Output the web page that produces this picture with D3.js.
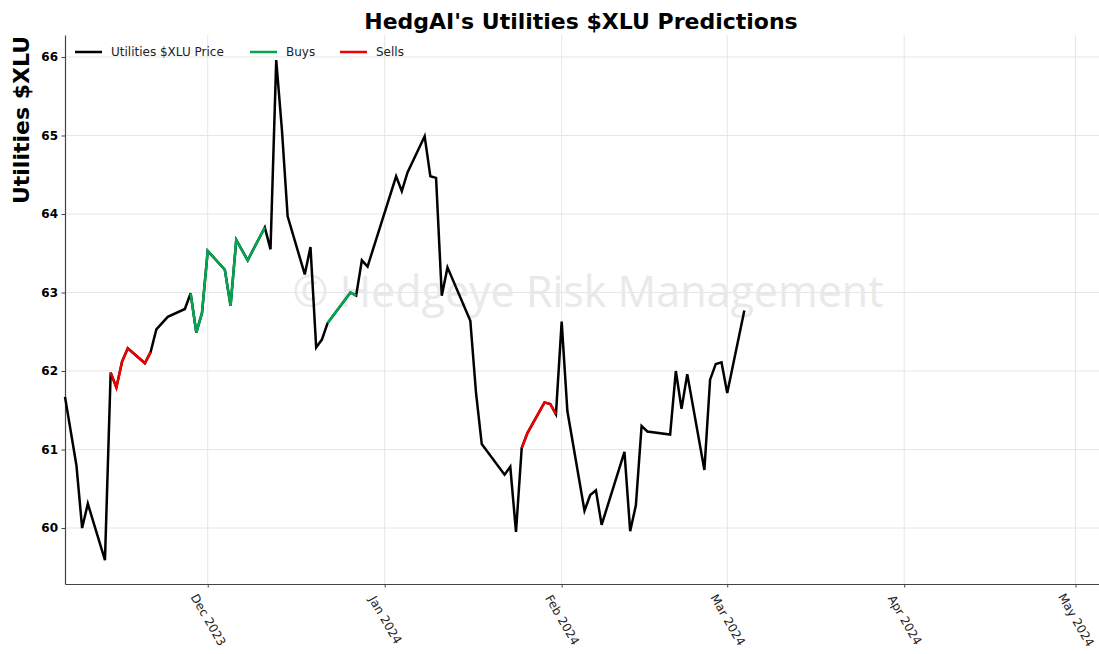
<!DOCTYPE html>
<html>
<head>
<meta charset="utf-8">
<script src="https://cdn.jsdelivr.net/npm/d3@7"></script>
<style>
  body { margin: 0; background: #fff; }
  svg { display: block; font-family: "DejaVu Sans", sans-serif; }
</style>
</head>
<body>
<svg id="chart" width="1099" height="654"></svg>
<script>
// price readings (trading days)
var dates = ["2023-11-06","2023-11-08","2023-11-09","2023-11-10","2023-11-13","2023-11-14","2023-11-15",
  "2023-11-16","2023-11-17","2023-11-20","2023-11-21","2023-11-22","2023-11-24","2023-11-27","2023-11-28",
  "2023-11-29","2023-11-30","2023-12-01","2023-12-04","2023-12-05","2023-12-06","2023-12-08","2023-12-11",
  "2023-12-12","2023-12-13","2023-12-14","2023-12-15","2023-12-18","2023-12-19","2023-12-20","2023-12-21",
  "2023-12-22","2023-12-26","2023-12-27","2023-12-28","2023-12-29","2024-01-03","2024-01-04","2024-01-05",
  "2024-01-08","2024-01-09","2024-01-10","2024-01-11","2024-01-12","2024-01-16","2024-01-17","2024-01-18",
  "2024-01-22","2024-01-23","2024-01-24","2024-01-25","2024-01-26","2024-01-29","2024-01-30","2024-01-31",
  "2024-02-01","2024-02-02","2024-02-05","2024-02-06","2024-02-07","2024-02-08","2024-02-12","2024-02-13",
  "2024-02-14","2024-02-15","2024-02-16","2024-02-20","2024-02-21","2024-02-22","2024-02-23","2024-02-26",
  "2024-02-27","2024-02-28","2024-02-29","2024-03-01","2024-03-04"];
var prices = [61.67,60.80,60.00,60.31,59.59,61.98,61.79,
  62.12,62.29,62.10,62.24,62.53,62.69,62.79,62.99,
  62.49,62.74,63.53,63.29,62.83,63.67,63.41,63.83,
  63.55,65.96,65.07,63.97,63.23,63.58,62.30,62.40,
  62.61,63.00,62.96,63.41,63.33,64.48,64.29,64.53,
  64.99,64.48,64.46,62.96,63.32,62.64,61.72,61.07,
  60.68,60.78,59.95,61.02,61.21,61.60,61.58,61.45,
  62.63,61.49,60.22,60.42,60.48,60.04,60.97,59.96,
  60.29,61.30,61.23,61.19,62.00,61.52,61.96,60.74,
  61.89,62.09,62.11,61.72,62.77];

// signal windows [start, end]
var buys = [["2023-11-28","2023-12-11"], ["2023-12-22","2023-12-27"]];
var sells = [["2023-11-14","2023-11-21"], ["2024-01-25","2024-01-31"]];

var yTicks = [60, 61, 62, 63, 64, 65, 66];
var xTicks = ["2023-12-01","2024-01-01","2024-02-01","2024-03-01","2024-04-01","2024-05-01"];

var parse = d3.utcParse("%Y-%m-%d");
var fmt = d3.utcFormat("%b %Y");
var data = dates.map(function (d, i) { return {date: parse(d), value: prices[i]}; });

var svg = d3.select("#chart");
var margin = {top: 35, right: 1104, bottom: 584, left: 65};

var x = d3.scaleUtc().domain([parse("2023-11-06"), parse("2024-05-06")]).range([margin.left, margin.right]);
var y = d3.scaleLinear().domain([59.287, 66.28]).range([margin.bottom, margin.top]);

// grid
svg.append("g").selectAll("line").data(yTicks).enter().append("line")
  .attr("x1", margin.left).attr("x2", 1099)
  .attr("y1", d => y(d)).attr("y2", d => y(d))
  .style("stroke", "#e6e6e6").style("stroke-width", 1);
svg.append("g").selectAll("line").data(xTicks).enter().append("line")
  .attr("x1", d => x(parse(d))).attr("x2", d => x(parse(d)))
  .attr("y1", margin.top).attr("y2", margin.bottom)
  .style("stroke", "#e6e6e6").style("stroke-width", 1);

// watermark
svg.append("text")
  .attr("x", 588).attr("y", 290)
  .attr("text-anchor", "middle").attr("dominant-baseline", "central")
  .style("font-family", "'Open Sans', sans-serif")
  .style("font-size", "43px")
  .style("fill", "#e9e9e9")
  .text("© Hedgeye Risk Management");

// axes
var yAxis = svg.append("g")
  .attr("transform", "translate(" + margin.left + ",0)")
  .call(d3.axisLeft(y).tickValues(yTicks).tickSize(3.5).tickPadding(3.5).tickSizeOuter(0).tickFormat(d3.format("d")));
yAxis.selectAll("text").style("font-size", "12px").style("font-weight", "bold").style("fill", "#000")
  .style("font-family", "'DejaVu Sans', sans-serif");

var xAxis = svg.append("g")
  .attr("transform", "translate(0," + margin.bottom + ")")
  .call(d3.axisBottom(x).tickValues(xTicks.map(parse)).tickSize(3.5).tickSizeOuter(0).tickFormat(fmt));
xAxis.selectAll("text").remove();
xAxis.selectAll(".tick").append("text")
  .attr("transform", "translate(0,36) rotate(60)")
  .attr("text-anchor", "middle").attr("dominant-baseline", "central")
  .style("font-size", "12px").style("fill", "#222")
  .style("font-family", "'DejaVu Sans', sans-serif")
  .text(d => fmt(d));
svg.selectAll(".domain").style("stroke", "#444").style("stroke-width", 1.2);
svg.selectAll(".tick line").style("stroke", "#444");

// lines
var line = d3.line().x(d => x(d.date)).y(d => y(d.value));
svg.append("path").datum(data)
  .attr("d", line).style("fill", "none")
  .style("stroke", "#000").style("stroke-width", 2.5).style("stroke-linejoin", "miter");

function segment(range) {
  var a = parse(range[0]), b = parse(range[1]);
  return data.filter(d => d.date >= a && d.date <= b);
}
buys.forEach(function (r) {
  svg.append("path").datum(segment(r)).attr("d", line).style("fill", "none")
    .style("stroke", "#00a650").style("stroke-width", 2.5);
});
sells.forEach(function (r) {
  svg.append("path").datum(segment(r)).attr("d", line).style("fill", "none")
    .style("stroke", "#f00000").style("stroke-width", 2.5);
});

// legend
var legend = [["Utilities $XLU Price", "#000", 75], ["Buys", "#00a650", 250], ["Sells", "#f00000", 340]];
legend.forEach(function (l) {
  svg.append("line").attr("x1", l[2]).attr("x2", l[2] + 27).attr("y1", 52).attr("y2", 52)
    .style("stroke", l[1]).style("stroke-width", 2.5);
  svg.append("text").attr("x", l[2] + 36).attr("y", 52).attr("dominant-baseline", "central")
    .style("font-size", "12px").style("fill", "#222").text(l[0]);
});

// title + y label
svg.append("text").attr("x", 581).attr("y", 21)
  .attr("text-anchor", "middle").attr("dominant-baseline", "central")
  .style("font-size", "22px").style("font-weight", "bold").text("HedgAI's Utilities $XLU Predictions");
svg.append("text")
  .attr("transform", "translate(21,120) rotate(-90)")
  .attr("text-anchor", "middle").attr("dominant-baseline", "central")
  .style("font-size", "22px").style("font-weight", "bold").text("Utilities $XLU");
</script>
</body>
</html>
